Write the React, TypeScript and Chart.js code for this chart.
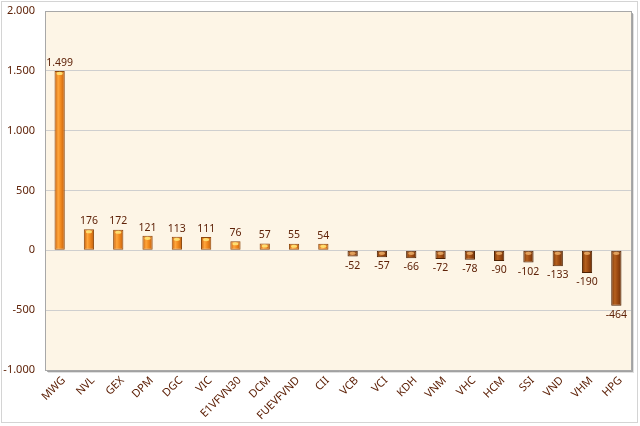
import React, { useEffect, useRef } from "react";
import { Chart, registerables } from "chart.js";

Chart.register(...registerables);

const categories = ["MWG", "NVL", "GEX", "DPM", "DGC", "VIC", "E1VFVN30", "DCM", "FUEVFVND", "CII", "VCB", "VCI", "KDH", "VNM", "VHC", "HCM", "SSI", "VND", "VHM", "HPG"];
const values = [1499, 176, 172, 121, 113, 111, 76, 57, 55, 54, -52, -57, -66, -72, -78, -90, -102, -133, -190, -464];
const yTicks = [-1000, -500, 0, 500, 1000, 1500, 2000];

const TEXT = "#5E2208";
const FONT = "'Noto Sans', 'DejaVu Sans', sans-serif";

function fmt(v: number): string {
  const s = Math.abs(v).toString().replace(/\B(?=(\d{3})+(?!\d))/g, ".");
  return (v < 0 ? "-" : "") + s;
}

const framePlugin = {
  id: "frame",
  beforeDraw(chart: any) {
    const { ctx, chartArea: a, width, height } = chart;
    ctx.save();
    ctx.fillStyle = "#ffffff";
    ctx.fillRect(0, 0, width, height);
    ctx.strokeStyle = "#d4d4d4";
    ctx.lineWidth = 1;
    ctx.strokeRect(1.5, 1.5, 636, 421);
    ctx.fillStyle = "rgba(0,0,0,0.12)";
    ctx.fillRect(a.left + 3, a.top + 3, a.right - a.left, a.bottom - a.top);
    ctx.fillStyle = "#FDF5E6";
    ctx.fillRect(a.left, a.top, a.right - a.left, a.bottom - a.top);
    ctx.restore();
  },
  afterDraw(chart: any) {
    const { ctx, chartArea: a } = chart;
    ctx.save();
    ctx.strokeStyle = "#a8a8a8";
    ctx.lineWidth = 1;
    ctx.strokeRect(Math.round(a.left) + 0.5, Math.round(a.top) + 0.5, Math.round(a.right - a.left), Math.round(a.bottom - a.top));
    ctx.strokeStyle = "rgba(110,110,110,0.55)";
    ctx.beginPath();
    ctx.moveTo(Math.round(a.right) + 1.5, a.top + 2);
    ctx.lineTo(Math.round(a.right) + 1.5, a.bottom + 1.5);
    ctx.lineTo(a.left + 2, Math.round(a.bottom) + 1.5);
    ctx.stroke();
    ctx.restore();
  },
};

const labelPlugin = {
  id: "valueLabels",
  afterDatasetsDraw(chart: any) {
    const { ctx } = chart;
    const meta = chart.getDatasetMeta(0);
    ctx.save();
    ctx.fillStyle = TEXT;
    ctx.font = `10.5px ${FONT}`;
    ctx.textAlign = "center";
    meta.data.forEach((bar: any, i: number) => {
      const v = values[i];
      const w = bar.width;
      const topY = v >= 0 ? bar.y : bar.base;
      ctx.save();
      ctx.fillStyle = v >= 0 ? "rgba(255,230,120,0.9)" : "rgba(240,180,110,0.8)";
      ctx.beginPath();
      ctx.ellipse(bar.x, topY + 2.5, w * 0.3, 1.6, 0, 0, Math.PI * 2);
      ctx.fill();
      ctx.restore();
      if (v >= 0) {
        ctx.textBaseline = "bottom";
        ctx.fillText(fmt(v), bar.x, bar.y - 3);
      } else {
        ctx.textBaseline = "top";
        ctx.fillText(fmt(v), bar.x, bar.y + 4);
      }
    });
    ctx.restore();
  },
};

function barFill(context: any) {
  const chart = context.chart;
  const i = context.dataIndex;
  const v = values[i];
  const xs = chart.scales && chart.scales.x;
  if (!xs || xs.getPixelForValue == null || !chart.chartArea) return v >= 0 ? "#F28A1E" : "#A04C10";
  const cx = xs.getPixelForValue(i);
  const half = 5;
  const g = chart.ctx.createLinearGradient(cx - half, 0, cx + half, 0);
  if (v >= 0) {
    g.addColorStop(0, "#C8600C");
    g.addColorStop(0.35, "#FFA63C");
    g.addColorStop(0.6, "#F28A1E");
    g.addColorStop(1, "#C2600E");
  } else {
    g.addColorStop(0, "#7A3608");
    g.addColorStop(0.35, "#B5601E");
    g.addColorStop(0.6, "#9E4B12");
    g.addColorStop(1, "#6E3008");
  }
  return g;
}

export default function App() {
  const ref = useRef<HTMLCanvasElement | null>(null);
  useEffect(() => {
    if (!ref.current) return;
    const chart = new Chart(ref.current, {
      type: "bar",
      data: {
        labels: categories,
        datasets: [
          {
            data: values,
            backgroundColor: barFill as any,
            borderColor: values.map((v) => (v >= 0 ? "#8E4A0E" : "#4E2204")),
            borderWidth: 1,
            borderSkipped: false,
            barPercentage: 0.35,
            categoryPercentage: 1,
          },
        ],
      },
      options: {
        animation: false,
        responsive: false,
        maintainAspectRatio: false,
        layout: { padding: { top: 11, right: 9, left: 0, bottom: 0 } },
        plugins: { legend: { display: false }, tooltip: { enabled: false } },
        scales: {
          x: {
            grid: { display: false, drawTicks: false },
            border: { display: false },
            ticks: {
              color: TEXT,
              font: { family: FONT, size: 11 },
              maxRotation: 45,
              minRotation: 45,
              autoSkip: false,
              padding: 4,
              labelOffset: 4,
            },
            afterFit(scale: any) {
              scale.height = 56;
              scale.paddingLeft = 0;
              scale.paddingRight = 0;
            },
          },
          y: {
            min: -1000,
            max: 2000,
            afterBuildTicks(scale: any) {
              scale.ticks = yTicks.map((v) => ({ value: v }));
            },
            grid: { color: "#cfcfcf", drawTicks: false, lineWidth: 1 },
            border: { display: false },
            ticks: {
              color: TEXT,
              font: { family: FONT, size: 11 },
              padding: 10,
              callback: (v: any) => fmt(Number(v)),
            },
            afterFit(scale: any) {
              scale.width = 45;
              scale.paddingTop = 0;
              scale.paddingBottom = 0;
            },
          },
        },
      },
      plugins: [framePlugin, labelPlugin],
    });
    return () => chart.destroy();
  }, []);
  return (
    <div style={{ position: "fixed", left: 0, top: 0, width: 640, height: 426 }}>
      <canvas ref={ref} width={640} height={426} style={{ width: 640, height: 426, display: "block" }} />
    </div>
  );
}
